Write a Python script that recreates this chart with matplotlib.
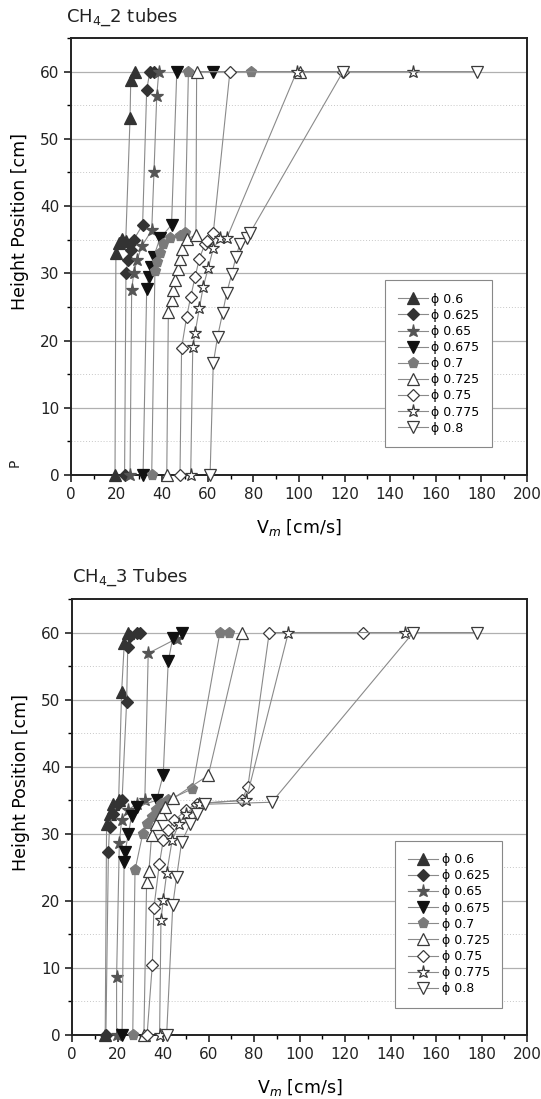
import matplotlib
matplotlib.use("Agg")
import matplotlib.pyplot as plt
from matplotlib.ticker import MultipleLocator

# legend labels and marker styles
phi_labels = ["\u03d5 0.6", "\u03d5 0.625", "\u03d5 0.65", "\u03d5 0.675", "\u03d5 0.7",
              "\u03d5 0.725", "\u03d5 0.75", "\u03d5 0.775", "\u03d5 0.8"]
markers = ["^", "D", "*", "v", "p", "^", "D", "*", "v"]
faces = ["#333333", "#333333", "#555555", "#111111", "#7a7a7a",
         "white", "white", "white", "white"]

# CH4 - 2 tubes: Vm [cm/s] and height [cm] per phi
vm_2 = [
    [19.3, 19.7, 21, 22.5, 24, 25.9, 26.2, 28.0],
    [23.5, 24.1, 25, 26.3, 27.5, 31.4, 33.2, 34.6, 36.4],
    [25.9, 26.6, 27.5, 29, 31, 35.4, 36.4, 37.6, 38.5],
    [31.6, 33.2, 34.3, 35.2, 36.3, 39, 44.1, 46.4, 62.1],
    [35.4, 36.8, 37.6, 39, 40.5, 43.4, 47.8, 50, 51.5, 78.8],
    [42, 42.7, 44.1, 44.8, 45.8, 47, 47.7, 48.9, 50.7, 54.8, 55.1, 100.4],
    [47.8, 48.5, 50.7, 52.5, 54.4, 56.3, 58.8, 59.5, 62.4, 69.7, 119.3],
    [52.5, 53.4, 54.4, 56.3, 58, 60.2, 62.4, 65.4, 68.3, 99, 149.9],
    [61, 62.4, 64.3, 66.5, 68.3, 70.5, 72.4, 74.1, 77, 78.5, 119.3, 177.9],
]
h_2 = [
    [0, 33, 34.5, 35.1, 34.8, 53.1, 58.8, 60],
    [0, 30, 32, 33.5, 35, 37.2, 57.3, 60, 60],
    [0, 27.5, 30, 32, 34, 36.4, 45.1, 56.3, 60],
    [0, 27.7, 29.5, 31, 32.5, 35.2, 37.2, 60, 60],
    [0, 30.3, 31.7, 33, 34.3, 35.2, 35.5, 36, 60, 60],
    [0, 24.3, 26, 27.5, 29, 30.6, 32.1, 33.6, 35.1, 35.7, 60, 60],
    [0, 18.9, 23.5, 26.5, 29.4, 32.2, 34.4, 34.8, 36, 60, 60],
    [0, 19, 21.1, 24.8, 28, 30.8, 33.7, 35.2, 35.2, 60, 60],
    [0, 16.6, 20.6, 24.1, 27.1, 29.9, 32.5, 34.4, 35.2, 36, 60, 60],
]

# CH4 - 3 tubes
vm_3 = [
    [14.6, 15.2, 16.5, 18, 20.5, 21.8, 23, 24.5],
    [14.9, 16, 16.5, 18, 20, 22, 24, 24.5, 25.5, 28.5, 30],
    [19.6, 19.6, 20.8, 21.8, 24.5, 28.5, 32, 33.5, 46],
    [22, 22.9, 23.3, 24.8, 26.2, 28.4, 37.2, 40.1, 42.3, 44.3, 48.2],
    [26.7, 27.7, 31.1, 33, 35, 37, 39, 42, 52.9, 65, 69.1],
    [31.6, 32.8, 33.8, 35, 37, 39, 41, 44.5, 59.9, 74.6],
    [33, 35.3, 36, 38.4, 40.1, 42.3, 45, 50, 55, 74.6, 77.3, 86.7, 128],
    [38.5, 39.1, 40.1, 41.6, 44, 47, 50, 56, 76.5, 95.1, 146.4],
    [41.6, 44.3, 46, 48.2, 52, 55, 58.5, 87.8, 150, 177.9],
]
h_3 = [
    [0, 31.5, 33, 34.5, 35, 51.1, 58.5, 60],
    [0, 27.3, 31, 33, 34.5, 35, 49.6, 57.8, 59.5, 60, 60],
    [0, 8.7, 28.6, 32, 33.5, 34.5, 35, 56.9, 59.1],
    [0, 25.8, 27.3, 30, 32.7, 34, 35, 38.8, 55.7, 59.2, 60],
    [0, 24.6, 30, 31.5, 32.5, 33.5, 34.5, 35, 36.7, 60, 60],
    [0, 22.8, 24.4, 29.8, 31.5, 33, 34, 35.3, 38.7, 60],
    [0, 10.5, 19, 25.5, 29, 30.5, 32, 33.5, 34.5, 35, 37, 60, 60],
    [0, 17.1, 20.1, 24.1, 29, 31.5, 33, 34.5, 35, 60, 60],
    [0, 19.4, 23.6, 28.8, 31.5, 33, 34.4, 34.7, 60, 60],
]

W, H = 541, 1099
fig = plt.figure(figsize=(W / 100, H / 100), dpi=100)


def panel(rect, xs, ys, title, title_xy, leg_anchor):
    ax = fig.add_axes(rect)
    for i in range(len(xs)):
        ms = 9.5 if markers[i] == "*" else 8
        if markers[i] == "D":
            ms = 6.5
        ax.plot(xs[i], ys[i], color="#8a8a8a", lw=0.8, marker=markers[i], ms=ms,
                mfc=faces[i], mec="#3a3a3a" if faces[i] == "white" else faces[i],
                mew=0.9, label=phi_labels[i], clip_on=False, zorder=3)
    ax.set_xlim(0, 200)
    ax.set_ylim(0, 65)
    ax.xaxis.set_major_locator(MultipleLocator(20))
    ax.xaxis.set_minor_locator(MultipleLocator(10))
    ax.yaxis.set_major_locator(MultipleLocator(10))
    ax.yaxis.set_minor_locator(MultipleLocator(5))
    ax.set_yticks([0, 10, 20, 30, 40, 50, 60])
    ax.grid(axis="y", which="major", color="#b0b0b0", lw=0.9)
    ax.grid(axis="y", which="minor", color="#c8c8c8", lw=0.7, ls=(0, (1, 2)))
    ax.set_axisbelow(True)
    ax.tick_params(which="major", direction="out", length=5, width=1.2, labelsize=11,
                   colors="#222222")
    ax.tick_params(which="minor", direction="out", length=3, width=1.0)
    for s in ax.spines.values():
        s.set_linewidth(1.4)
        s.set_color("#222222")
    ax.set_xlabel("V$_m$ [cm/s]", fontsize=12.5, labelpad=11)
    ax.set_ylabel("Height Position [cm]", fontsize=12.5, labelpad=8)
    ax.yaxis.set_label_coords(-0.093, 0.58)
    leg = ax.legend(loc="upper left", bbox_to_anchor=leg_anchor, fontsize=9,
                    handlelength=2.4, labelspacing=0.25, handletextpad=0.3,
                    borderpad=1.0, fancybox=False, framealpha=1,
                    edgecolor="#888888")
    leg.get_frame().set_linewidth(0.8)
    fig.text(title_xy[0], title_xy[1], title, fontsize=13, color="#222222",
             ha="left", va="center")
    return ax


# axes rectangles from pixel layout
panel([71 / W, 1 - 475 / H, 456 / W, 437 / H], vm_2, h_2, "CH$_4$_2 tubes",
      (66 / W, 1 - 17 / H), (0.675, 0.46))
panel([72 / W, 1 - 1035 / H, 455 / W, 436 / H], vm_3, h_3, "CH$_4$_3 Tubes",
      (72 / W, 1 - 577 / H), (0.697, 0.46))

fig.text(15 / W, 1 - 463 / H, "P", fontsize=10, rotation=90, ha="center", va="center",
         color="#222222")

fig.savefig("out.png", dpi=100, facecolor="white")
